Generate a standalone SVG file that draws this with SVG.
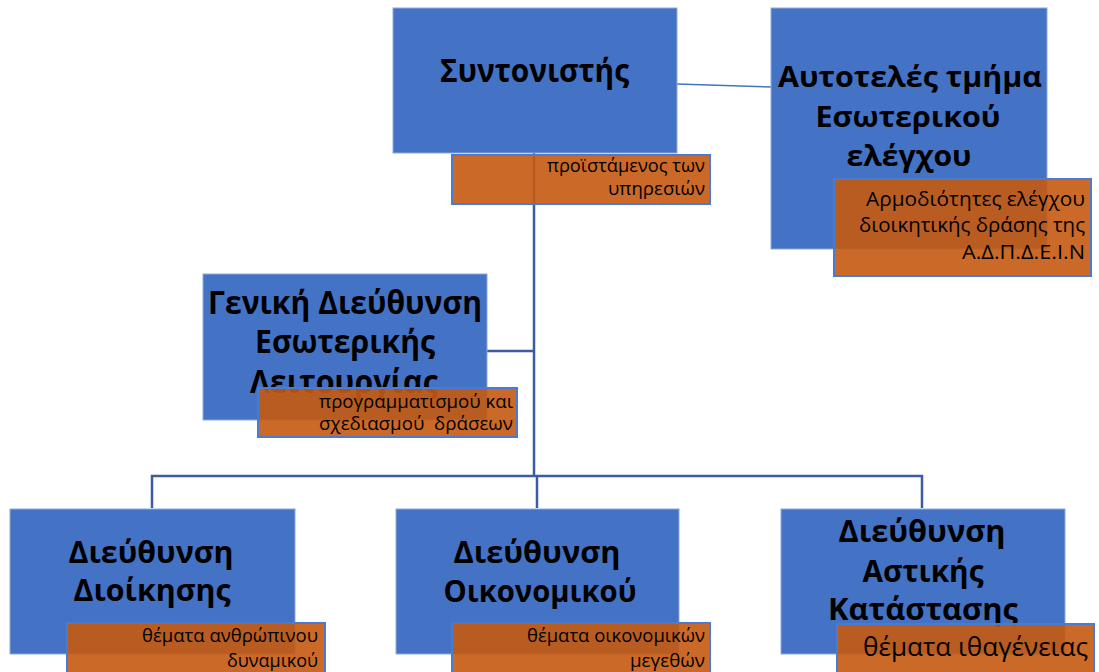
<svg xmlns="http://www.w3.org/2000/svg" width="1099" height="672" viewBox="0 0 1099 672">
<style>
.box{fill:#4472C4;stroke:#8FAADC;stroke-width:1}
.tag{fill:#C55A11;fill-opacity:0.9;stroke:#4A7BD0;stroke-width:2}
.title{font-family:"Open Sans","Noto Sans","DejaVu Sans",sans-serif;font-weight:bold;fill:#000;text-anchor:middle}
.small{font-family:"Open Sans","Noto Sans","DejaVu Sans",sans-serif;fill:#000;text-anchor:end}
.conn{stroke:#3B5CA5;stroke-width:2.5;fill:none}
</style>
<rect width="1099" height="672" fill="#fff"/>
<g id="connectors">
<line x1="677" y1="84" x2="773" y2="87" stroke="#4472C4" stroke-width="1.5"/>
<line class="conn" x1="534" y1="153" x2="534" y2="477"/>
<line class="conn" x1="487" y1="351" x2="534" y2="351"/>
<polyline class="conn" points="152,508 152,476 922,476 922,508"/>
<line class="conn" x1="537" y1="476" x2="537" y2="508"/>
</g>
<g id="coordinator">
<rect class="box" x="393" y="8" width="284" height="145"/>
<text class="title" x="534.5" y="82" font-size="32" textLength="189" lengthAdjust="spacingAndGlyphs">Συντονιστής</text>
<rect class="tag" x="452" y="155" width="258" height="49"/>
<text class="small" x="705" y="172" font-size="18" textLength="158" lengthAdjust="spacingAndGlyphs">προϊστάμενος των</text>
<text class="small" x="705" y="195" font-size="18" textLength="97" lengthAdjust="spacingAndGlyphs">υπηρεσιών</text>
</g>
<g id="internal-audit">
<rect class="box" x="771" y="8" width="276" height="241"/>
<text class="title" x="910" y="87" font-size="29" textLength="264" lengthAdjust="spacingAndGlyphs">Αυτοτελές τμήμα</text>
<text class="title" x="908" y="127" font-size="29" textLength="185" lengthAdjust="spacingAndGlyphs">Εσωτερικού</text>
<text class="title" x="909" y="166" font-size="29" textLength="125" lengthAdjust="spacingAndGlyphs">ελέγχου</text>
<rect class="tag" x="834" y="179" width="257" height="97"/>
<text class="small" x="1085" y="206" font-size="20" textLength="219" lengthAdjust="spacingAndGlyphs">Αρμοδιότητες ελέγχου</text>
<text class="small" x="1085" y="232" font-size="20" textLength="226" lengthAdjust="spacingAndGlyphs">διοικητικής δράσης της</text>
<text class="small" x="1085" y="259" font-size="20" textLength="123" lengthAdjust="spacingAndGlyphs">Α.Δ.Π.Δ.Ε.Ι.Ν</text>
</g>
<g id="general-directorate">
<rect class="box" x="203" y="274" width="284" height="146"/>
<text class="title" x="345" y="314" font-size="33" textLength="274" lengthAdjust="spacingAndGlyphs">Γενική Διεύθυνση</text>
<text class="title" x="345" y="353" font-size="33" textLength="180" lengthAdjust="spacingAndGlyphs">Εσωτερικής</text>
<text class="title" x="344" y="393" font-size="33" textLength="188" lengthAdjust="spacingAndGlyphs">Λειτουργίας</text>
<rect class="tag" x="258" y="388" width="259" height="49"/>
<text class="small" x="513" y="408" font-size="18" textLength="194" lengthAdjust="spacingAndGlyphs">προγραμματισμού και</text>
<text class="small" x="513" y="430" font-size="18" textLength="194" lengthAdjust="spacingAndGlyphs" xml:space="preserve">σχεδιασμού  δράσεων</text>
</g>
<g id="administration">
<rect class="box" x="10" y="509" width="285" height="145"/>
<text class="title" x="151" y="563" font-size="31" textLength="165" lengthAdjust="spacingAndGlyphs">Διεύθυνση</text>
<text class="title" x="152" y="601" font-size="31" textLength="157" lengthAdjust="spacingAndGlyphs">Διοίκησης</text>
<rect class="tag" x="67" y="623" width="258" height="52"/>
<text class="small" x="318" y="642" font-size="19" textLength="176" lengthAdjust="spacingAndGlyphs">θέματα ανθρώπινου</text>
<text class="small" x="318" y="667" font-size="19" textLength="91" lengthAdjust="spacingAndGlyphs">δυναμικού</text>
</g>
<g id="economic">
<rect class="box" x="396" y="509" width="283" height="145"/>
<text class="title" x="537" y="563" font-size="31" textLength="167" lengthAdjust="spacingAndGlyphs">Διεύθυνση</text>
<text class="title" x="540" y="602" font-size="31" textLength="193" lengthAdjust="spacingAndGlyphs">Οικονομικού</text>
<rect class="tag" x="452" y="623" width="258" height="52"/>
<text class="small" x="705" y="642" font-size="19" textLength="178" lengthAdjust="spacingAndGlyphs">θέματα οικονομικών</text>
<text class="small" x="705" y="667" font-size="19" textLength="75" lengthAdjust="spacingAndGlyphs">μεγεθών</text>
</g>
<g id="civil-status">
<rect class="box" x="781" y="509" width="284" height="145"/>
<text class="title" x="922" y="542" font-size="30" textLength="167" lengthAdjust="spacingAndGlyphs">Διεύθυνση</text>
<text class="title" x="923" y="582" font-size="30" textLength="121" lengthAdjust="spacingAndGlyphs">Αστικής</text>
<text class="title" x="923" y="620" font-size="30" textLength="190" lengthAdjust="spacingAndGlyphs">Κατάστασης</text>
<rect class="tag" x="837" y="624" width="257" height="52"/>
<text class="small" x="1088" y="656" font-size="26" textLength="225" lengthAdjust="spacingAndGlyphs">θέματα ιθαγένειας</text>
</g>
</svg>
